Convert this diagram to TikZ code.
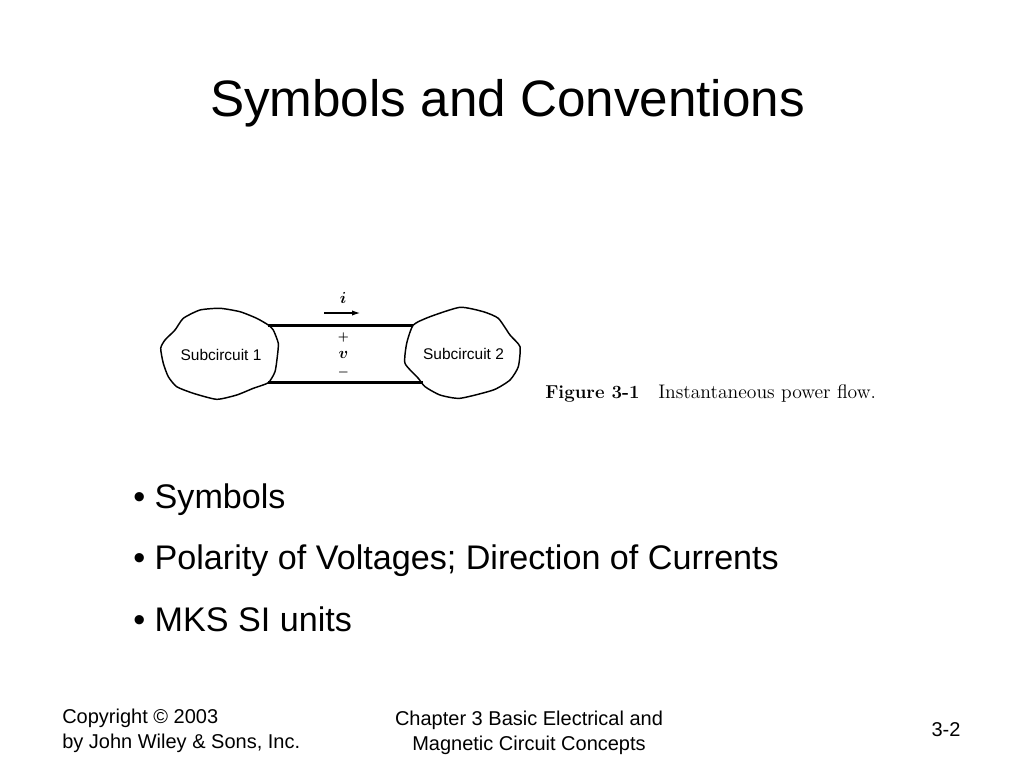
\documentclass[tikz,border=0pt]{standalone}
\usepackage{amsmath}
\usepackage{fontspec}
\newfontfamily\slidefont{Liberation Sans}
\usetikzlibrary{arrows.meta}

\tikzset{
	titletext/.style={font=\slidefont\fontsize{38.4}{40}\selectfont},
	bullettext/.style={anchor=base west,inner sep=0pt,font=\slidefont\fontsize{25.6}{28}\selectfont},
	foottext/.style={font=\slidefont\fontsize{15}{18.75}\selectfont,align=center},
	subtext/.style={font=\slidefont\fontsize{11.6}{12}\selectfont},
	marktext/.style={font=\fontsize{13}{14}\selectfont},
	signtext/.style={font=\fontsize{9}{10}\selectfont},
	blob/.style={draw,line width=1.1pt,tension=0.35},
	wire/.style={draw,line width=1.9pt}
}

\begin{document}
\begin{tikzpicture}[x=0.75pt,y=-0.75pt]
	\useasboundingbox (0,0) rectangle (1024,768);

	\node[titletext] (title) at (507.5,103) {Symbols and Conventions};

	\coordinate (a1) at (268,325.5);
	\coordinate (a2) at (413,325.5);
	\coordinate (b1) at (268,382.5);
	\coordinate (b2) at (423,382.5);
	\draw[wire] (a1) -- (a2);
	\draw[wire] (b1) -- (b2);

	\draw[blob] plot[smooth cycle] coordinates {(268.3,325) (256.7,318.3) (240,311.7) (220,308.3) (200,310) (183.3,318.3) (175,330) (165,340) (160.7,348.3) (163.3,363.3) (168.3,376.7) (176.7,386.7) (193.3,393.3) (216.7,399.3) (236.7,395) (253.3,388.3) (268.3,382.7) (275,371.7) (277.3,356.7) (278.3,343.3) (273.3,330)};
	\draw[blob] plot[smooth cycle] coordinates {(413.3,325) (430,316.7) (460,307.3) (483.3,311.7) (498.3,318.3) (510,335) (520,346.7) (518.3,366.7) (510,380) (493.3,390) (460,398.3) (440,395) (425,386.7) (418.3,378.3) (405,363.3) (406.7,343.3)};

	\node[subtext] (sub1) at (221,354.5) {Subcircuit 1};
	\node[subtext] (sub2) at (463.5,354) {Subcircuit 2};

	\node[marktext] (cur) at (343,298) {$\boldsymbol{i}$};
	\coordinate (cur1) at (324,313);
	\coordinate (cur2) at (360,313);
	\draw[-{Latex[length=6pt,width=4pt]},line width=0.8pt] (cur1) -- (cur2);

	\node[signtext] (plus) at (343.5,337) {$\boldsymbol{+}$};
	\node[marktext] (volt) at (343.5,355) {$\boldsymbol{v}$};
	\node[signtext] (minus) at (343.5,372) {$\boldsymbol{-}$};

	\node[anchor=base west,inner sep=0pt,font=\fontsize{14}{14}\selectfont] (figno) at (545,398) {\bfseries Figure 3-1};
	\node[anchor=base west,inner sep=0pt,font=\fontsize{14.7}{14}\selectfont] (figcap) at (658,398) {Instantaneous power flow.};

	\node[bullettext] (b1txt) at (133,508) {• Symbols};
	\node[bullettext] (b2txt) at (133,569) {• Polarity of Voltages; Direction of Currents};
	\node[bullettext] (b3txt) at (133,631) {• MKS SI units};

	\node[foottext,align=left,anchor=west,inner sep=0pt] (copy) at (62,731) {Copyright © 2003\\by John Wiley \& Sons, Inc.};
	\node[foottext] (chap) at (529,733) {Chapter 3 Basic Electrical and\\Magnetic Circuit Concepts};
	\node[foottext] (page) at (946,730) {3-2};
\end{tikzpicture}
\end{document}
